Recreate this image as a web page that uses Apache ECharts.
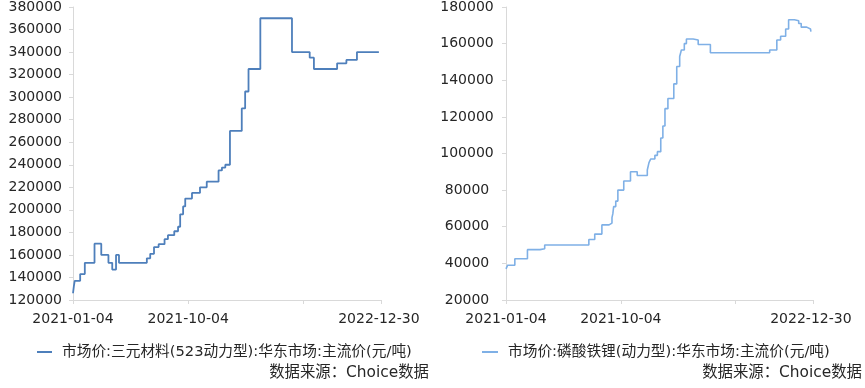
<!DOCTYPE html>
<html>
<head>
<meta charset="utf-8">
<script src="https://cdn.jsdelivr.net/npm/echarts@6/dist/echarts.min.js"></script>
<style>
html,body{margin:0;padding:0;background:#fff;}
#c{width:865px;height:388px;}
</style>
</head>
<body>
<div id="c"></div>
<script>
// ---- data ----
const nameNCM = '市场价:三元材料(523动力型):华东市场:主流价(元/吨)';
const nameLFP = '市场价:磷酸铁锂(动力型):华东市场:主流价(元/吨)';
const sourceText = '数据来源：Choice数据';

const ncmDates = ['2021-01-04','2021-01-06','2021-01-08','2021-01-21','2021-02-01','2021-02-24','2021-03-12','2021-03-29','2021-04-07','2021-04-16','2021-04-23','2021-06-28','2021-07-06','2021-07-15','2021-07-26','2021-08-09','2021-08-17','2021-09-01','2021-09-10','2021-09-15','2021-09-22','2021-09-27','2021-10-13','2021-11-01','2021-11-17','2021-12-15','2021-12-23','2021-12-31','2022-01-11','2022-02-08','2022-02-16','2022-02-24','2022-03-24','2022-06-07','2022-07-19','2022-07-29','2022-09-22','2022-10-14','2022-11-08','2022-12-30'];
const ncmValues = [126000,132000,137000,143000,153000,170000,160000,153000,147000,160000,153000,157000,161000,167000,169500,174000,177500,181000,185000,196000,203000,210000,215000,220000,225000,235000,237500,240000,270000,290000,305000,325000,370000,340000,335000,325000,330000,333000,340000,340000];

const lfpDates = ['2021-01-04','2021-01-08','2021-01-25','2021-02-24','2021-03-26','2021-04-06','2021-07-20','2021-08-03','2021-08-20','2021-09-06','2021-09-13','2021-09-15','2021-09-17','2021-09-22','2021-09-27','2021-10-11','2021-10-27','2021-11-12','2021-12-06','2021-12-10','2021-12-14','2021-12-24','2021-12-30','2022-01-07','2022-01-12','2022-01-17','2022-01-24','2022-02-07','2022-02-14','2022-02-21','2022-02-25','2022-03-04','2022-03-09','2022-03-25','2022-04-06','2022-05-05','2022-09-23','2022-10-10','2022-10-19','2022-10-31','2022-11-07','2022-11-21','2022-12-01','2022-12-07','2022-12-20','2022-12-29','2022-12-30'];
const lfpValues = [37000,39000,42500,47500,48000,50000,53000,56000,61000,62000,65000,67000,71000,74000,80000,85000,90000,88000,91000,95000,97000,99000,101000,108500,115000,124500,130000,138000,147500,153000,156500,160000,162500,162000,159500,155000,156500,162000,164000,168000,173000,172500,171000,169000,168000,167000,166500];

const xLabelDates = ['2021-01-04','2021-10-04','2022-12-30'];
const xTickDates = ['2021-01-04','2021-10-04','2022-07-04','2023-01-04'];
const xMinDate = '2021-01-04';
const xMaxDate = '2023-01-04';
const ncmYAxis = {min:120000, max:380000, interval:20000};
const lfpYAxis = {min:20000, max:180000, interval:20000};

// ---- helpers ----
function toTs(s){const p=s.split('-').map(Number);return new Date(p[0],p[1]-1,p[2]).getTime();}
function pad(n){return (n<10?'0':'')+n;}
function fmt(v){const d=new Date(v);return d.getFullYear()+'-'+pad(d.getMonth()+1)+'-'+pad(d.getDate());}
function pairs(ds,vs){return ds.map((d,i)=>[toTs(d),vs[i]]);}

const FONT = "'DejaVu Sans', 'Noto Sans CJK SC', sans-serif";
const TXT = '#262626';
const AX = '#d9d9d9';

function xAxisOpt(gi){
  return {
    type:'value', gridIndex:gi, min:toTs(xMinDate), max:toTs(xMaxDate), scale:true,
    splitLine:{show:false},
    axisLine:{show:true,onZero:false,lineStyle:{color:AX,width:1}},
    axisTick:{show:true,length:4,lineStyle:{color:AX},customValues:xTickDates.map(toTs)},
    axisLabel:{customValues:xLabelDates.map(toTs),formatter:v=>fmt(v),color:TXT,fontFamily:FONT,fontSize:14,margin:12,hideOverlap:false}
  };
}
function yAxisOpt(gi,cfg,labelOpt){
  return Object.assign({
    type:'value', gridIndex:gi,
    splitLine:{show:false},
    axisLine:{show:true,onZero:false,lineStyle:{color:AX,width:1}},
    axisTick:{show:true,length:4,inside:false,lineStyle:{color:AX}},
    axisLabel:Object.assign({color:TXT,fontFamily:FONT,fontSize:14,formatter:v=>String(v)},labelOpt)
  },cfg);
}

const chart = echarts.init(document.getElementById('c'));
chart.setOption({
  animation:false,
  backgroundColor:'#fff',
  grid:[
    {left:73, top:5, width:308, height:295, containLabel:false},
    {left:506, top:5, width:307, height:295, containLabel:false}
  ],
  xAxis:[xAxisOpt(0), xAxisOpt(1)],
  yAxis:[
    yAxisOpt(0,ncmYAxis,{margin:11}),
    yAxisOpt(1,lfpYAxis,{margin:39,align:'center'})
  ],
  legend:[
    {data:[nameNCM], left:37, top:344, padding:0, icon:'rect', itemWidth:15, itemHeight:2,
     textStyle:{color:TXT,fontFamily:FONT,fontSize:14.7,lineHeight:16,padding:[0,0,0,5]}},
    {data:[nameLFP], left:482, top:344, padding:0, icon:'rect', itemWidth:16, itemHeight:2,
     textStyle:{color:TXT,fontFamily:FONT,fontSize:14.7,lineHeight:16,padding:[0,0,0,5]}}
  ],
  graphic:[
    {type:'text', x:429, y:373, style:{text:sourceText, align:'right', verticalAlign:'middle', fill:TXT, font:"15.4px "+FONT}},
    {type:'text', x:862, y:373, style:{text:sourceText, align:'right', verticalAlign:'middle', fill:TXT, font:"15.4px "+FONT}}
  ],
  series:[
    {name:nameNCM, type:'line', xAxisIndex:0, yAxisIndex:0, step:'end', showSymbol:false, symbol:'none',
     data:pairs(ncmDates,ncmValues), lineStyle:{color:'#4E7FBB',width:1.8}, itemStyle:{color:'#4E7FBB'}},
    {name:nameLFP, type:'line', xAxisIndex:1, yAxisIndex:1, step:'end', showSymbol:false, symbol:'none',
     data:pairs(lfpDates,lfpValues), lineStyle:{color:'#7FB0E6',width:1.6}, itemStyle:{color:'#7FB0E6'}}
  ]
});
</script>
</body>
</html>
